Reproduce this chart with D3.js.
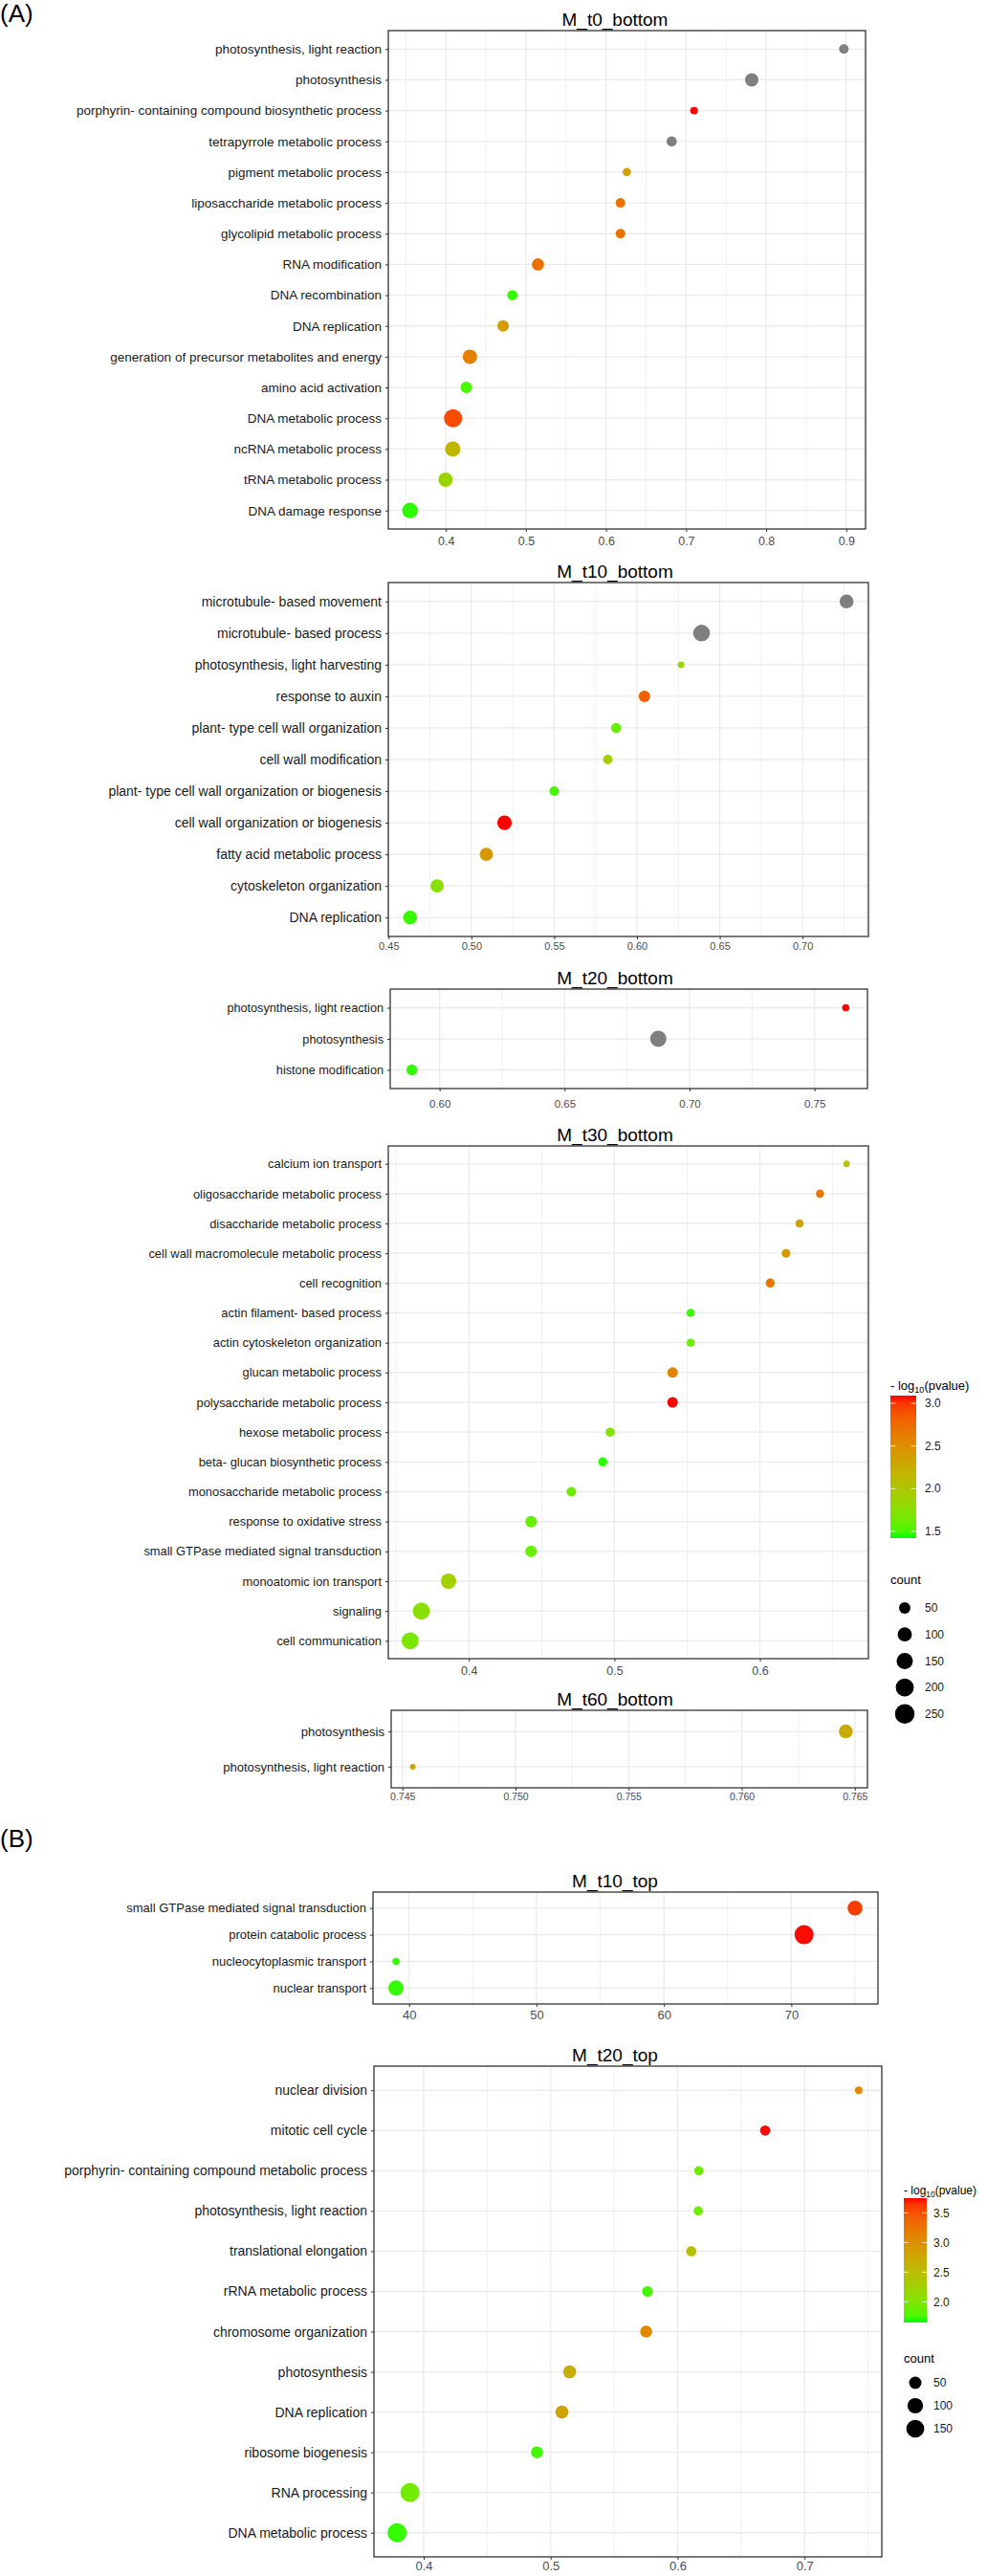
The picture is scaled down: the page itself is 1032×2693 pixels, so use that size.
<!DOCTYPE html>
<html>
<head>
<meta charset="utf-8">
<script src="https://cdn.jsdelivr.net/npm/d3@7"></script>
<style>
  body { margin: 0; background: #fff; }
  svg { display: block; }
  text { font-family: "Liberation Sans", Arial, sans-serif; }
</style>
</head>
<body>
<div id="chart"></div>
<script>
// define constants
const W = 1032;
const H = 2693;

// ---- data ----
// ratio = x value, count = genes in term, logp = -log10(pvalue), null = grey (outside colour range)
const t0Terms = ["photosynthesis, light reaction", "photosynthesis", "porphyrin- containing compound biosynthetic process",
  "tetrapyrrole metabolic process", "pigment metabolic process", "liposaccharide metabolic process",
  "glycolipid metabolic process", "RNA modification", "DNA recombination", "DNA replication",
  "generation of precursor metabolites and energy", "amino acid activation", "DNA metabolic process",
  "ncRNA metabolic process", "tRNA metabolic process", "DNA damage response"];
const t0Ratio = [0.897, 0.782, 0.710, 0.682, 0.626, 0.618, 0.618, 0.515, 0.483, 0.4715, 0.430, 0.4255, 0.409, 0.4086, 0.3996, 0.3552];
const t0Count = [26, 84, 9, 34, 14, 26, 26, 62, 34, 51, 104, 51, 204, 126, 104, 133];
const t0LogP = [null, null, 3.09, null, 2.36, 2.70, 2.70, 2.72, 1.47, 2.40, 2.62, 1.50, 2.92, 2.17, 1.86, 1.45];

const t10Terms = ["microtubule- based movement", "microtubule- based process", "photosynthesis, light harvesting",
  "response to auxin", "plant- type cell wall organization", "cell wall modification",
  "plant- type cell wall organization or biogenesis", "cell wall organization or biogenesis",
  "fatty acid metabolic process", "cytoskeleton organization", "DNA replication"];
const t10Ratio = [0.7266, 0.639, 0.6266, 0.6045, 0.5874, 0.5824, 0.550, 0.520, 0.509, 0.4793, 0.463];
const t10Count = [94, 163, 4, 51, 30, 26, 26, 108, 81, 81, 94];
const t10LogP = [null, null, 1.84, 2.82, 1.59, 1.92, 1.50, 3.09, 2.42, 1.75, 1.47];

const t20Terms = ["photosynthesis, light reaction", "photosynthesis", "histone modification"];
const t20Ratio = [0.7625, 0.6875, 0.5889];
const t20Count = [7, 150, 45];
const t20LogP = [3.09, null, 1.47];

const t30Terms = ["calcium ion transport", "oligosaccharide metabolic process", "disaccharide metabolic process",
  "cell wall macromolecule metabolic process", "cell recognition", "actin filament- based process",
  "actin cytoskeleton organization", "glucan metabolic process", "polysaccharide metabolic process",
  "hexose metabolic process", "beta- glucan biosynthetic process", "monosaccharide metabolic process",
  "response to oxidative stress", "small GTPase mediated signal transduction", "monoatomic ion transport",
  "signaling", "cell communication"];
const t30Ratio = [0.6596, 0.6413, 0.6273, 0.618, 0.6071, 0.5524, 0.5524, 0.540, 0.540, 0.4971, 0.492, 0.4704, 0.4427, 0.4427, 0.386, 0.3673, 0.3596];
const t30Count = [3, 13, 13, 17, 21, 13, 13, 37, 37, 21, 21, 26, 51, 51, 126, 168, 168];
const t30LogP = [2.05, 2.67, 2.34, 2.42, 2.67, 1.47, 1.59, 2.59, 3.09, 1.72, 1.45, 1.62, 1.59, 1.59, 1.92, 1.75, 1.67];

const t60Terms = ["photosynthesis", "photosynthesis, light reaction"];
const t60Ratio = [0.7646, 0.74546];
const t60Count = [94, 1];
const t60LogP = [2.26, 2.34];

const top10Terms = ["small GTPase mediated signal transduction", "protein catabolic process",
  "nucleocytoplasmic transport", "nuclear transport"];
const top10Value = [75.0, 71.0, 38.97, 38.97];
const top10Count = [87, 180, 4, 96];
const top10LogP = [3.60, 3.74, 1.71, 1.71];

const top20Terms = ["nuclear division", "mitotic cell cycle", "porphyrin- containing compound metabolic process",
  "photosynthesis, light reaction", "translational elongation", "rRNA metabolic process",
  "chromosome organization", "photosynthesis", "DNA replication", "ribosome biogenesis",
  "RNA processing", "DNA metabolic process"];
const top20Ratio = [0.7427, 0.669, 0.6167, 0.6163, 0.6108, 0.5763, 0.5753, 0.515, 0.5089, 0.4892, 0.3892, 0.379];
const top20Count = [6, 25, 16, 16, 25, 28, 44, 58, 58, 44, 180, 180];
const top20LogP = [3.08, 3.74, 1.90, 1.90, 2.45, 1.73, 3.08, 2.70, 2.81, 1.73, 1.92, 1.71];

// legend ranges and breaks
const limitsA = [1.42, 3.09];
const colorBreaksA = [1.5, 2.0, 2.5, 3.0];
const countBreaksA = [50, 100, 150, 200, 250];
const limitsB = [1.65, 3.75];
const colorBreaksB = [2.0, 2.5, 3.0, 3.5];
const countBreaksB = [50, 100, 150];

// scales shared by a group of panels
const groups = {
  A: {
    color: d3.scaleLinear().domain(limitsA).range(["#00ff00", "#ff0000"]).interpolate(d3.interpolateLab).clamp(true),
    size: d3.scaleSqrt().domain([0, 250]).range([2.5, 10.25])
  },
  B: {
    color: d3.scaleLinear().domain(limitsB).range(["#00ff00", "#ff0000"]).interpolate(d3.interpolateLab).clamp(true),
    size: d3.scaleSqrt().domain([0, 150]).range([2.6, 9.35])
  }
};
const naColor = "#7f7f7f";

// panel layout: box = [left, top, right, bottom], nt = wanted number of x ticks
const panels = [
  { title: "M_t0_bottom", terms: t0Terms, x: t0Ratio, count: t0Count, logp: t0LogP, group: "A", box: [406, 32, 905, 553], label: 13.5, tick: 12.5, pad: 5, nt: 5 },
  { title: "M_t10_bottom", terms: t10Terms, x: t10Ratio, count: t10Count, logp: t10LogP, group: "A", box: [406, 609, 908, 979], label: 14, tick: 11, pad: 3, nt: 5 },
  { title: "M_t20_bottom", terms: t20Terms, x: t20Ratio, count: t20Count, logp: t20LogP, group: "A", box: [408, 1034, 907, 1138], label: 12.7, tick: 11.5, pad: 9, nt: 5 },
  { title: "M_t30_bottom", terms: t30Terms, x: t30Ratio, count: t30Count, logp: t30LogP, group: "A", box: [406, 1198, 908, 1734], label: 12.9, tick: 12.5, pad: 5, nt: 3 },
  { title: "M_t60_bottom", terms: t60Terms, x: t60Ratio, count: t60Count, logp: t60LogP, group: "A", box: [409, 1788, 907, 1869], label: 13.1, tick: 10.5, pad: 3, nt: 5 },
  { title: "M_t10_top", terms: top10Terms, x: top10Value, count: top10Count, logp: top10LogP, group: "B", box: [390, 1978, 918, 2095], label: 13, tick: 13, pad: 4, nt: 5 },
  { title: "M_t20_top", terms: top20Terms, x: top20Ratio, count: top20Count, logp: top20LogP, group: "B", box: [391, 2160, 922, 2673], label: 14, tick: 13, pad: 2, nt: 5 }
];

const legends = [
  { group: "A", limits: limitsA, breaks: colorBreaksA, counts: countBreaksA, x: 931, titleY: 1453, titleSize: 13, barY: 1459, barW: 27, barH: 149, labelX: 967, countY: 1656, keyY: 1681, keyGap: 27.7, keyX: 946 },
  { group: "B", limits: limitsB, breaks: colorBreaksB, counts: countBreaksB, x: 945, titleY: 2294, titleSize: 12, barY: 2298, barW: 24, barH: 130, labelX: 976, countY: 2470, keyY: 2491, keyGap: 24, keyX: 957 }
];

const svg = d3.select("#chart").append("svg").attr("width", W).attr("height", H);
svg.append("rect").attr("width", W).attr("height", H).attr("fill", "#fff");

// panel letters
svg.append("text").attr("x", 0).attr("y", 23).attr("font-size", 26).text("(A)");
svg.append("text").attr("x", 0).attr("y", 1931).attr("font-size", 26).text("(B)");

panels.forEach(drawPanel);
legends.forEach(drawLegend);

function drawPanel(p) {
  const [x0, y0, x1, y1] = p.box;
  const sc = groups[p.group];
  const g = svg.append("g");

  // ggplot-style 5% expansion of the data range
  const ext = d3.extent(p.x);
  const padX = (ext[1] - ext[0]) * 0.05;
  const x = d3.scaleLinear().domain([ext[0] - padX, ext[1] + padX]).range([x0, x1]);
  const y = d3.scalePoint().domain(p.terms).range([y0, y1]).padding(0.6);

  const dom = x.domain();
  const ticks = x.ticks(p.nt);
  const step = d3.tickStep(dom[0], dom[1], p.nt);
  const minor = [ticks[0] - step, ...ticks].map(t => t + step / 2).filter(m => m > dom[0] && m < dom[1]);

  // grid
  g.selectAll(".minor").data(minor).join("line")
    .attr("x1", d => x(d)).attr("x2", d => x(d)).attr("y1", y0).attr("y2", y1)
    .attr("stroke", "#ebebeb").attr("stroke-width", 0.7);
  g.selectAll(".vmajor").data(ticks).join("line")
    .attr("x1", d => x(d)).attr("x2", d => x(d)).attr("y1", y0).attr("y2", y1)
    .attr("stroke", "#ebebeb").attr("stroke-width", 1.3);
  g.selectAll(".hmajor").data(p.terms).join("line")
    .attr("x1", x0).attr("x2", x1).attr("y1", d => y(d)).attr("y2", d => y(d))
    .attr("stroke", "#ebebeb").attr("stroke-width", 1.3);

  // points
  const pts = p.terms.map((t, i) => ({ term: t, x: p.x[i], count: p.count[i], logp: p.logp[i] }));
  g.selectAll("circle").data(pts).join("circle")
    .attr("cx", d => x(d.x))
    .attr("cy", d => y(d.term))
    .attr("r", d => sc.size(d.count))
    .attr("fill", d => d.logp == null ? naColor : sc.color(d.logp));

  // border
  g.append("rect").attr("x", x0).attr("y", y0).attr("width", x1 - x0).attr("height", y1 - y0)
    .attr("fill", "none").attr("stroke", "#333").attr("stroke-width", 1.3);

  // axes
  const fmt = d3.format("." + d3.precisionFixed(step) + "f");
  const xAxis = g.append("g").attr("transform", "translate(0," + y1 + ")")
    .call(d3.axisBottom(x).tickValues(ticks).tickFormat(fmt).tickSize(3).tickPadding(p.pad));
  xAxis.select(".domain").remove();
  xAxis.selectAll("line").attr("stroke", "#333");
  xAxis.selectAll("text").attr("fill", "#4d4d4d").attr("font-size", p.tick)
    .attr("font-family", "'Liberation Sans', Arial, sans-serif");

  const yAxis = g.append("g").attr("transform", "translate(" + x0 + ",0)")
    .call(d3.axisLeft(y).tickSize(3).tickPadding(4));
  yAxis.select(".domain").remove();
  yAxis.selectAll("line").attr("stroke", "#333");
  yAxis.selectAll("text").attr("fill", "#1a1a1a").attr("font-size", p.label)
    .attr("font-family", "'Liberation Sans', Arial, sans-serif");

  // title
  g.append("text").attr("x", 643).attr("y", y0 - 5).attr("text-anchor", "middle")
    .attr("font-family", "'Open Sans', sans-serif").attr("font-size", 19).attr("fill", "#000")
    .text(p.title);
}

function drawLegend(L) {
  const sc = groups[L.group];
  const g = svg.append("g");

  const title = g.append("text").attr("x", L.x).attr("y", L.titleY).attr("font-size", L.titleSize).attr("fill", "#000");
  title.append("tspan").text("- log");
  title.append("tspan").attr("font-size", L.titleSize * 0.7).attr("dy", 3).text("10");
  title.append("tspan").attr("dy", -3).text("(pvalue)");

  // colour bar
  const gid = "grad" + L.group;
  const grad = svg.append("defs").append("linearGradient").attr("id", gid)
    .attr("x1", 0).attr("y1", 1).attr("x2", 0).attr("y2", 0);
  d3.range(0, 1.0001, 0.05).forEach(t => {
    grad.append("stop").attr("offset", t)
      .attr("stop-color", sc.color(L.limits[0] + t * (L.limits[1] - L.limits[0])));
  });
  const yb = d3.scaleLinear().domain(L.limits).range([L.barY + L.barH, L.barY]);
  g.append("rect").attr("x", L.x).attr("y", L.barY).attr("width", L.barW).attr("height", L.barH)
    .attr("fill", "url(#" + gid + ")");
  const tl = L.barW / 5;
  g.selectAll(".tl").data(L.breaks).join("line")
    .attr("x1", L.x).attr("x2", L.x + tl).attr("y1", d => yb(d)).attr("y2", d => yb(d))
    .attr("stroke", "#fff").attr("stroke-width", 1).attr("opacity", 0.8);
  g.selectAll(".tr").data(L.breaks).join("line")
    .attr("x1", L.x + L.barW - tl).attr("x2", L.x + L.barW).attr("y1", d => yb(d)).attr("y2", d => yb(d))
    .attr("stroke", "#fff").attr("stroke-width", 1).attr("opacity", 0.8);
  g.selectAll(".bl").data(L.breaks).join("text")
    .attr("x", L.labelX).attr("y", d => yb(d)).attr("dy", "0.35em")
    .attr("font-size", 12).attr("fill", "#1a1a1a").text(d3.format(".1f"));

  // size keys
  g.append("text").attr("x", L.x).attr("y", L.countY).attr("font-size", 13).attr("fill", "#000").text("count");
  g.selectAll(".key").data(L.counts).join("circle")
    .attr("cx", L.keyX).attr("cy", (d, i) => L.keyY + i * L.keyGap)
    .attr("r", d => sc.size(d)).attr("fill", "#000");
  g.selectAll(".kl").data(L.counts).join("text")
    .attr("x", L.labelX).attr("y", (d, i) => L.keyY + i * L.keyGap).attr("dy", "0.35em")
    .attr("font-size", 12).attr("fill", "#1a1a1a").text(d => d);
}
</script>
</body>
</html>
